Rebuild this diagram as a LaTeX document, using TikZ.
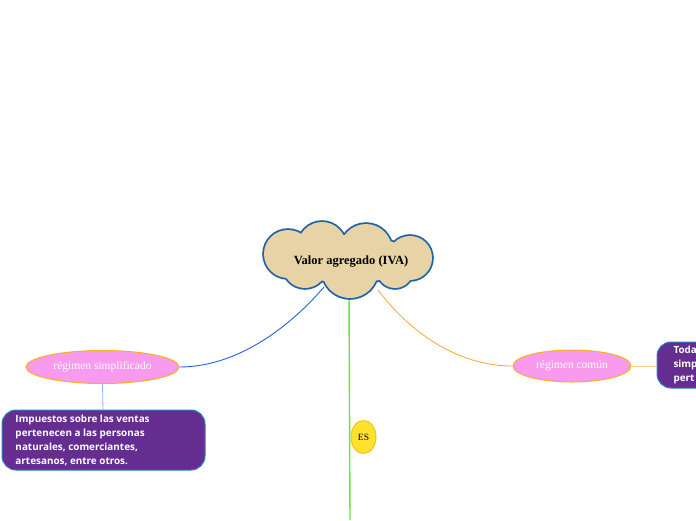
\documentclass[tikz,border=0pt]{standalone}
\usepackage{fontspec}
\setmainfont{Liberation Serif}
\newfontfamily\boxfont{Open Sans}
\newfontfamily\titlefont{Liberation Serif}
\usetikzlibrary{shapes.geometric}
\definecolor{cloudfill}{HTML}{E8D3A6}
\definecolor{cloudline}{HTML}{1E64A8}
\definecolor{pinkfill}{HTML}{F89AEE}
\definecolor{orangeline}{HTML}{F5B21A}
\definecolor{purplefill}{HTML}{662D91}
\definecolor{boxline}{HTML}{2B7FC4}
\definecolor{bluecon}{HTML}{2460E8}
\definecolor{orangecon}{HTML}{F7A531}
\definecolor{greencon}{HTML}{66E830}
\definecolor{lightblue}{HTML}{8AB4F0}
\definecolor{lightorange}{HTML}{F9C98A}
\definecolor{esfill}{HTML}{FFE22E}
\definecolor{esline}{HTML}{F5C21A}
\tikzset{
  cloudtext/.style={inner sep=0pt, font=\titlefont\bfseries\fontsize{12.5}{14}\selectfont},
  regime/.style={ellipse, fill=pinkfill, draw=orangeline, line width=1pt,
    inner sep=0pt, text=white, font=\fontsize{11.5}{13}\selectfont},
  infobox/.style={rounded corners=14pt, fill=purplefill, draw=boxline, line width=1pt,
    text=white, align=left, anchor=north west, inner sep=0pt,
    font=\boxfont\bfseries\fontsize{9.9}{14}\selectfont},
  esnode/.style={ellipse, fill=esfill, draw=esline, line width=1pt, inner sep=0pt,
    minimum width=25pt, minimum height=33pt, font=\fontsize{9.5}{11}\selectfont}
}
\newcommand{\cloudpuffs}{%
  (288,254) circle (24) (322,246) circle (24) (366,250) circle (26)
  (410,258) circle (22) (395,270) circle (18) (350,270) circle (28)
  (305,266) circle (22) (349,259) ellipse (62 and 24)}
\begin{document}
\begin{tikzpicture}[x=1pt,y=-1pt]
\useasboundingbox (0,0) rectangle (696,520);
\clip (0,0) rectangle (696,520);
% connectors first
\coordinate (gtop) at (349,292);
\coordinate (gend) at (350,520);
\draw[greencon, line width=1.4pt] (gtop) -- (gend);
\node[esnode] (es) at (363.5,437) {ES};
\node[regime, minimum width=153pt, minimum height=33pt] (simp) at (102.5,367) {régimen simplificado};
\node[regime, minimum width=118pt, minimum height=32pt] (comun) at (572,366) {régimen común};
\coordinate (cl) at (324,287);
\coordinate (cr) at (378,290);
\draw[bluecon, line width=0.9pt] (cl) .. controls (287,330) and (235,367) .. (simp.east);
\draw[orangecon, line width=0.8pt] (cr) .. controls (420,345) and (470,366) .. (comun.west);
% cloud: outline of the union of puffs
\draw[cloudline, line width=3.6pt] \cloudpuffs;
\fill[cloudfill] \cloudpuffs;
\node[cloudtext] (main) at (351,262) {Valor agregado (IVA)};
% boxes
\draw[infobox] (2,410) rectangle (205,470);
\node[infobox, draw=none, fill=none, rounded corners=0pt] (box1) at (15,414.5)
  {Impuestos sobre las ventas\\pertenecen a las personas\\naturales, comerciantes,\\artesanos, entre otros.};
\coordinate (box1top) at (103,410);
\draw[lightblue, line width=0.8pt] (simp.south) -- (box1top);
\draw[infobox] (657,342) rectangle (760,388);
\node[infobox, draw=none, fill=none, rounded corners=0pt] (box2) at (673,345.5)
  {Toda\\simp\\pert};
\coordinate (box2left) at (657,366);
\draw[lightorange, line width=0.8pt] (comun.east) -- (box2left);
\end{tikzpicture}
\end{document}
